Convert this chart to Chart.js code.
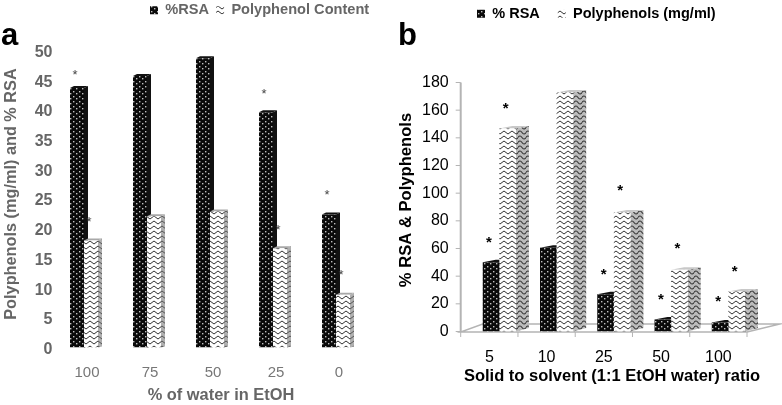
<!DOCTYPE html>
<html><head><meta charset="utf-8">
<script src="https://cdn.jsdelivr.net/npm/chart.js@4"></script>
<style>
html,body{margin:0;padding:0;background:#fff;width:782px;height:405px;overflow:hidden}
canvas{position:absolute;top:0}
#ca{left:0}#cb{left:390px}
</style></head><body>
<canvas id="ca" width="385" height="405"></canvas>
<canvas id="cb" width="392" height="405"></canvas>
<script>
const waterLabels = ['100','75','50','25','0'];
const waterRsa = [43.7,45.7,48.7,39.6,22.4];
const waterPoly = [18,22.1,22.9,16.7,8.9];
const waterRsaStars = [46.1,null,null,42.9,25.9];
const waterPolyStars = [21.4,null,null,20,12.5];
const ratioLabels = ['5','10','25','50','100'];
const ratioRsa = [50,60.6,27,8.7,6.5];
const ratioPoly = [146.7,172.8,86,44.7,29];
const ratioRsaStars = [66.5,null,43.4,25.3,23.9];
const ratioPolyStars = [163.4,null,103.8,62.2,45.6];

const FONT = '"Liberation Sans", Arial, sans-serif';
function tile(w,h,bg,draw){
  const c=document.createElement('canvas');c.width=w;c.height=h;
  const g=c.getContext('2d');g.fillStyle=bg;g.fillRect(0,0,w,h);draw(g);
  return document.createElement('canvas').getContext('2d').createPattern(c,'repeat');
}
const dots=(alpha)=>tile(6,5,'#0a0a0a',g=>{g.fillStyle='rgba(255,255,255,'+alpha+')';g.fillRect(1,1,1.4,1.4);g.fillRect(4,3,1.4,1.4);});
const wave=(bg,fg,lw)=>tile(8,5,bg,g=>{g.strokeStyle=fg;g.lineWidth=lw;g.beginPath();g.moveTo(0,2.5);g.quadraticCurveTo(2,-0.5,4,2.5);g.quadraticCurveTo(6,5.5,8,2.5);g.stroke();});
const rsaFill=dots(.75), polyFill=wave('#fff','#333',1);
const sideA=wave('#b0b0b0','#555',1), sideB=wave('#bcbcbc','#333',1.1);

function shape(g,pts,fill){g.beginPath();pts.forEach((p,i)=>i?g.lineTo(p[0],p[1]):g.moveTo(p[0],p[1]));g.closePath();g.fillStyle=fill;g.fill();}
function barExtras(cfg){return {id:'barExtras',
  beforeDatasetsDraw(chart){
    const g=chart.ctx;g.save();
    if(cfg.floor){cfg.floor(chart,g);}
    const dx=cfg.dx,dy=cfg.dy;
    chart.data.datasets.forEach((d,i)=>{
      chart.getDatasetMeta(i).data.forEach(el=>{
        const l=el.x-el.width/2,r=el.x+el.width/2,t=el.y,b=el.base;
        shape(g,[[r,b],[r+dx,b-cfg.baseDy],[r+dx,t-dy],[r,t]],i?cfg.side:'#111');
        shape(g,[[l,t],[l+dx,t-dy],[r+dx,t-dy],[r,t]],i?cfg.top:'#111');
      });
    });
    g.restore();
  },
  afterDatasetsDraw(chart){
    const g=chart.ctx,y=chart.scales.y;g.save();
    g.fillStyle=cfg.starColor;g.font=cfg.starFont;g.textAlign='center';g.textBaseline='middle';
    cfg.stars.forEach((arr,i)=>{
      const els=chart.getDatasetMeta(i).data;
      arr.forEach((v,k)=>{if(v!==null)g.fillText('*',els[k].x-2,y.getPixelForValue(v)+cfg.starShift);});
    });
    cfg.texts.forEach(t=>{
      g.save();g.translate(t.x,t.y);if(t.rot)g.rotate(t.rot);
      g.font=t.font;g.fillStyle=t.color;g.textAlign=t.align||'center';g.textBaseline='alphabetic';
      g.fillText(t.s,0,0);g.restore();
    });
    g.restore();
  },
  afterLayout(chart){
    const lg=chart.legend,p=chart.options.plugins.legend.labels.padding;
    lg.left=cfg.legendX-p;lg.right=lg.left+300;lg.top=cfg.legendY-p;
  }
};}

function makeChart(id,labels,a,b,la,lb,cfg,o){
  return new Chart(document.getElementById(id),{
    type:'bar',
    data:{labels,datasets:[
      {label:la,data:a,backgroundColor:rsaFill,borderWidth:0,barPercentage:1,categoryPercentage:o.cat},
      {label:lb,data:b,backgroundColor:polyFill,borderWidth:0,barPercentage:1,categoryPercentage:o.cat}
    ]},
    options:{responsive:false,animation:false,
      layout:{padding:o.pad},
      plugins:{tooltip:{enabled:false},
        legend:{position:'top',align:'start',maxHeight:1,labels:{boxWidth:8,boxHeight:8,padding:o.legendPad,color:o.legendColor,font:{family:FONT,weight:'bold',size:o.legendSize}}}},
      scales:{
        x:{grid:{display:false,drawTicks:false},border:{display:false},
          afterFit(s){s.height=40;},
          ticks:{autoSkip:false,maxRotation:0,padding:o.xPad,labelOffset:o.xOff,color:o.xColor,font:{family:FONT,size:o.xSize}}},
        y:{min:0,max:o.max,grid:{display:false,drawTicks:false},border:{display:false},
          afterFit(s){s.width=o.yWidth;},
          ticks:{stepSize:o.step,padding:o.yPad,labelOffset:o.yOff,color:o.yColor,font:{family:FONT,size:16,weight:o.yWeight}}}
      }
    },
    plugins:[barExtras(cfg)]
  });
}

const GREY='#666';
makeChart('ca',waterLabels,waterRsa,waterPoly,'%RSA','Polyphenol Content',{
  dx:4,dy:2,baseDy:1,side:sideA,top:'#a8a8a8',stars:[waterRsaStars,waterPolyStars],
  starColor:'#444',starFont:'13px '+FONT,starShift:2,legendX:150,legendY:3,
  texts:[
    {s:'a',x:1,y:45,font:'bold 31px '+FONT,color:'#000',align:'left'},
    {s:'% of water in EtOH',x:221,y:400,font:'bold 16.4px '+FONT,color:GREY},
    {s:'Polyphenols (mg/ml) and % RSA',x:16,y:194,rot:-Math.PI/2,font:'bold 16.3px '+FONT,color:GREY}
  ]
},{cat:28/63,pad:{top:49.5,left:0,right:17.5,bottom:17.5},legendPad:7,legendColor:GREY,legendSize:14.6,
   xPad:16,xOff:3,xColor:'#777',xSize:15,max:50,step:5,yWidth:52.5,yPad:0,yOff:2,yColor:GREY,yWeight:'bold'});

const floorB=(chart,g)=>{
  const x=chart.scales.x,y=chart.scales.y;
  const unit=x.getPixelForTick(1)-x.getPixelForTick(0);
  const ax=chart.chartArea.left-10,b=y.getPixelForValue(0)+0.5,w=unit*5;
  g.strokeStyle='#b4b4b4';g.lineWidth=1.5;
  g.fillStyle='#fff';g.beginPath();g.moveTo(ax,b);g.lineTo(ax+w,b);g.lineTo(ax+w+33,b-8);g.lineTo(ax+22,b-8);g.closePath();g.fill();g.stroke();
  g.lineWidth=2;g.beginPath();g.moveTo(ax,y.getPixelForValue(180));g.lineTo(ax,b);g.stroke();
  g.lineWidth=1;
  y.ticks.forEach((t,i)=>{const p=y.getPixelForTick(i);g.beginPath();g.moveTo(ax-5,p);g.lineTo(ax,p);g.stroke();});
  for(let i=0;i<=5;i++){g.beginPath();g.moveTo(ax+i*unit,b);g.lineTo(ax+i*unit,b+5);g.stroke();}
};
makeChart('cb',ratioLabels,ratioRsa,ratioPoly,'% RSA','Polyphenols (mg/ml)',{
  dx:13,dy:2.5,baseDy:3.5,side:sideB,top:'#c8c8c8',stars:[ratioRsaStars,ratioPolyStars],floor:floorB,
  starColor:'#000',starFont:'bold 15px '+FONT,starShift:3,legendX:87,legendY:6.5,
  texts:[
    {s:'b',x:8,y:45,font:'bold 31px '+FONT,color:'#000',align:'left'},
    {s:'Solid to solvent (1:1 EtOH water) ratio',x:222,y:381,font:'bold 16.5px '+FONT,color:'#000'},
    {s:'% RSA & Polyphenols',x:21,y:200,rot:-Math.PI/2,font:'bold 16.6px '+FONT,color:'#000'}
  ]
},{cat:33.2/57.3,pad:{top:81.5,left:0,right:25,bottom:33.5},legendPad:18,legendColor:'#000',legendSize:14.5,
   xPad:16,xOff:-10,xColor:'#000',xSize:16,max:180,step:20,yWidth:80.7,yPad:22,yOff:0,yColor:'#000',yWeight:'normal'});
</script>
</body></html>
